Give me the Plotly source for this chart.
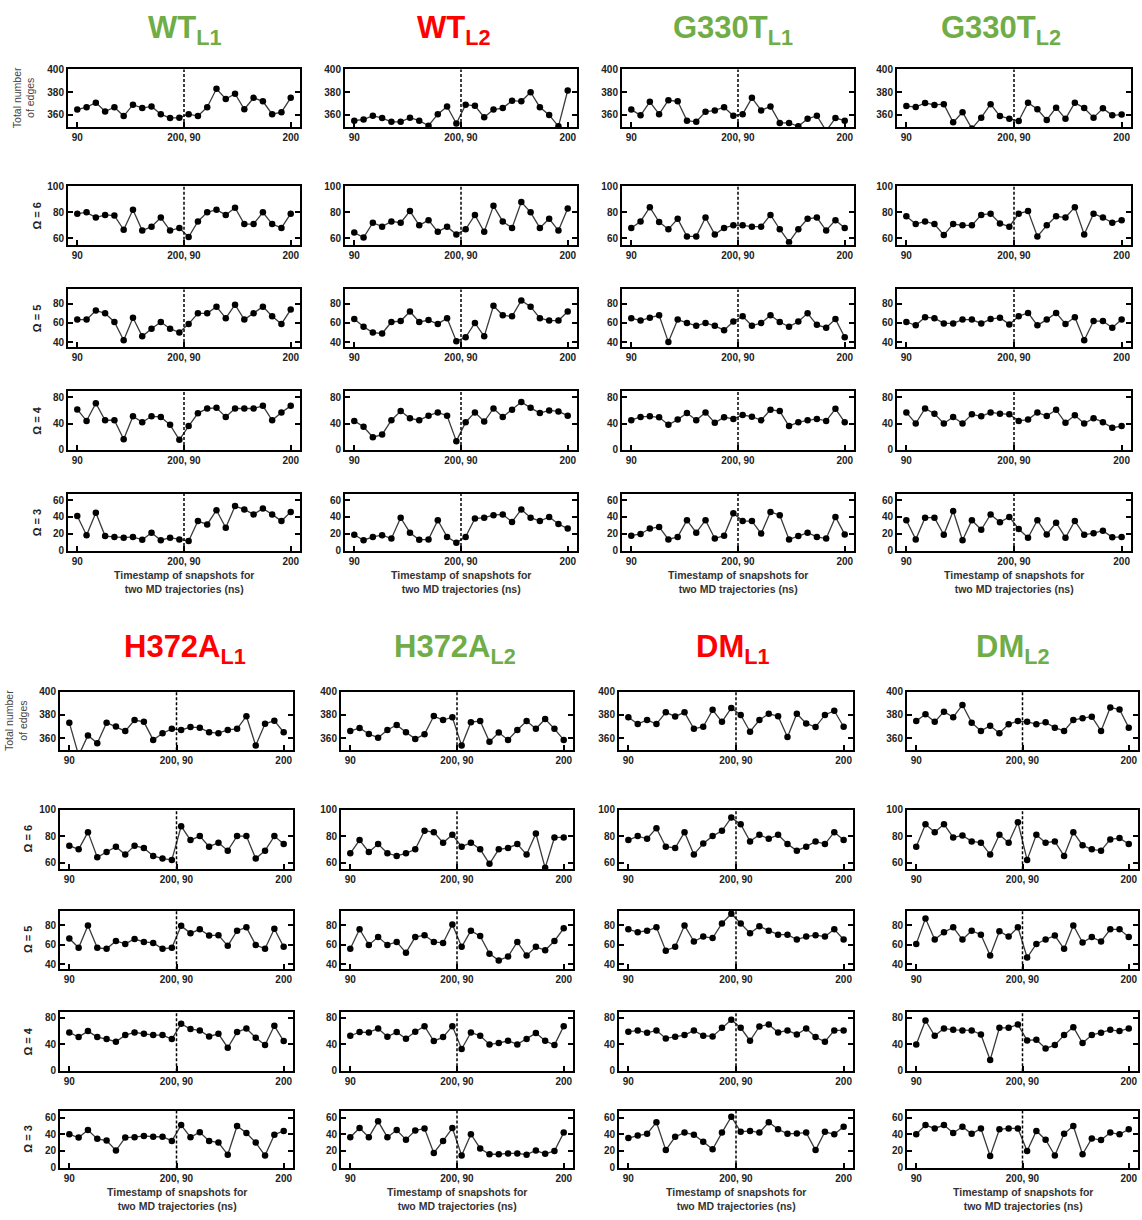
import plotly.graph_objects as go

W, H = 1142, 1220

# ---------------------------------------------------------------
# Snapshot axis: two 90-200 ns trajectories concatenated (12 + 12)
# ---------------------------------------------------------------
snap_index = list(range(24))
x_tick_vals = [0, 11.5, 23]
x_tick_text = ["90", "200, 90", "200"]
boundary = 11.5

row_titles = ["Total number<br>of edges", "<b>Ω = 6</b>", "<b>Ω = 5</b>", "<b>Ω = 4</b>", "<b>Ω = 3</b>"]
row_ranges = [[349.5, 400], [55, 100], [35, 95], [-0.5, 89], [-1, 68]]
row_ticks = [[360, 380, 400], [60, 80, 100], [40, 60, 80], [0, 40, 80], [0, 20, 40, 60]]

# ---------------- WT L1 ----------------
wt_l1_edges = [364.7, 366.8, 370.8, 363, 366.8, 359, 369, 366, 367.5, 360.7, 357.3, 357.6,
               360.7, 359, 366.8, 383, 374, 378.6, 365, 375, 372, 360.7, 362.4, 375]
wt_l1_w6 = [79, 80, 76, 78, 77.5, 66.6, 82, 66, 69, 76, 66, 68,
            61, 73, 80, 82, 78, 83.5, 71, 71, 80, 71, 68, 79]
wt_l1_w5 = [63.5, 63.5, 73, 70, 61, 42, 65.5, 46, 54, 61, 54, 50,
            59, 70, 70, 77, 65, 79, 63.5, 70, 77, 67, 59, 74]
wt_l1_w4 = [61.5, 44, 71, 45, 45, 16, 51, 42, 51, 50, 38, 15,
            36, 55.5, 63, 64, 50, 63, 63, 63, 67, 45, 57, 67]
wt_l1_w3 = [41, 18, 45, 17, 16, 15, 16, 12.5, 21, 12, 15, 13,
            11, 35, 31, 48, 27, 53, 49, 43, 50, 43, 35, 46]

# ---------------- WT L2 ----------------
wt_l2_edges = [355, 356, 359.3, 357.3, 354, 354, 357.6, 355, 350.5, 360.7, 367.5, 352.5,
               369, 368, 358, 364.7, 366, 372.5, 372, 380, 366.8, 360, 350, 381.5]
wt_l2_w6 = [64.5, 60.6, 72, 69, 73, 72, 81, 70, 74, 65, 69, 63,
            67, 78, 65, 85, 73, 68, 88, 80, 68, 75, 66, 83]
wt_l2_w5 = [64, 56, 50, 49, 61, 62, 72, 61, 63, 59, 65, 41,
            45, 60, 46, 78, 68, 67, 83.5, 77, 65, 62.5, 62.5, 72]
wt_l2_w4 = [44, 35, 19, 23, 45, 59, 48, 45, 52, 57, 52, 13,
            42, 57, 43, 63, 50, 61, 73, 64, 56, 60, 58.5, 52]
wt_l2_w3 = [18.5, 12, 16, 18, 14, 39, 21, 12.5, 13, 36, 16, 9,
            16, 38, 39, 42, 43, 34, 49, 39, 35, 40, 31.5, 26]

# ---------------- G330T L1 ----------------
g330t_l1_edges = [364.7, 359.7, 371.5, 360.7, 372.9, 372, 355, 354, 362.7, 364, 366.8, 359.3,
                  360.7, 375, 364, 367.5, 353, 353, 350, 356.6, 359.3, 346, 357.3, 355]
g330t_l1_w6 = [68, 73, 84, 72.5, 67, 75, 61.5, 61.5, 76, 63, 68, 70,
               70, 69, 69, 78, 67, 57, 67, 75, 76, 66, 74, 68]
g330t_l1_w5 = [65, 62.5, 65.5, 68, 40, 63.5, 60, 57, 60, 57, 52.5, 61.5,
               67, 57, 60, 68, 61, 56, 61.5, 70, 58, 55, 64, 45]
g330t_l1_w4 = [45, 50, 51, 49.5, 38, 46, 56, 45, 57, 41, 49.5, 47,
               53, 50.5, 45, 61, 59, 36, 42, 45, 47, 44, 62.5, 42]
g330t_l1_w3 = [17.5, 19.5, 26, 28, 13, 16, 36, 21, 36, 14, 17.5, 44.5,
               35, 35, 20, 46, 42, 13, 17, 21, 16, 14, 40, 19]

# ---------------- G330T L2 ----------------
g330t_l2_edges = [367.8, 367, 370.5, 368.8, 369.5, 353.5, 362.4, 348, 357.6, 369.5, 359, 356.6,
                  354.6, 370.8, 365, 355.6, 366.4, 356.6, 370.8, 366, 357.6, 365.8, 359.7, 360.3]
g330t_l2_w6 = [77, 71, 73, 71, 62.5, 71, 70, 70, 78, 79, 71.5, 69,
               79, 81, 61.5, 70, 77, 76, 84, 63, 79, 76, 72, 74]
g330t_l2_w5 = [61, 57.5, 66, 65, 59.5, 59.5, 63.5, 63.5, 59.5, 64, 65.5, 58.5,
               67, 70.5, 57.5, 63.5, 70.5, 59, 66, 42, 62, 62, 55, 63.5]
g330t_l2_w4 = [57, 40, 63, 55, 40, 50, 40, 54, 51, 57, 55, 54,
               44, 46, 57, 51.5, 61, 41, 52.5, 40, 48, 42, 33.5, 36]
g330t_l2_w3 = [36, 13, 39, 39, 18.5, 47, 12, 36, 24.5, 43, 33.5, 40,
               25.5, 15, 36, 19, 33, 15, 35, 18.5, 20.5, 23.5, 15.5, 16]

# ---------------- H372A L1 ----------------
h372a_l1_edges = [373.3, 345, 362.3, 355.5, 373.3, 370, 366, 375.6, 374, 358.4, 364.2, 368,
                  367, 369.5, 369, 365, 364.2, 367, 368, 378.9, 353.5, 372.3, 375, 365]
h372a_l1_w6 = [72.8, 70, 83, 64, 68, 72, 66, 72.8, 71, 65, 63, 62,
               87.5, 77, 80, 72, 75, 69, 80, 80, 63, 69, 80, 74]
h372a_l1_w5 = [66.5, 57, 80, 57, 56, 64, 61, 66, 63, 62, 56, 57,
               79.5, 72, 76, 69.5, 70, 59, 74.5, 78, 60, 56, 76.5, 58]
h372a_l1_w4 = [58, 51, 60, 51, 48, 44, 54, 58, 56, 54, 54, 48,
               71, 63, 61, 52, 56, 35, 58.5, 64, 50, 39, 68, 45]
h372a_l1_w3 = [40, 36, 45, 34.5, 32.5, 20.5, 36, 36.5, 38, 37, 37, 32,
               51, 36.5, 42.5, 32, 30, 15.5, 50, 41.5, 30, 14.5, 39.5, 44]

# ---------------- H372A L2 ----------------
h372a_l2_edges = [366, 368.8, 363.5, 360.3, 367, 371.3, 365, 359.3, 363.2, 379, 375.6, 378,
                  353.5, 373.7, 374.7, 356.8, 364.8, 358.4, 367, 374.7, 368, 376.5, 368, 358.4]
h372a_l2_w6 = [67, 77, 68, 74, 67, 65, 67, 70, 84, 83, 75, 81,
               72, 75, 70, 59, 70, 71, 74, 66, 82, 56, 79, 79]
h372a_l2_w5 = [56, 76, 60, 68, 60, 63, 52, 68, 70, 63, 62, 81,
               58, 74.5, 69, 51, 44, 48, 63, 49, 58, 54.5, 64, 77]
h372a_l2_w4 = [53, 58.5, 58, 64, 51.5, 58.5, 48.5, 59, 67.5, 45, 51, 67.5,
               33, 58, 53, 40, 42, 45.5, 40, 48, 57, 45.5, 39, 67.5]
h372a_l2_w3 = [36.5, 47.5, 36.5, 55.5, 36.5, 45, 33.5, 44.5, 47, 17.5, 32, 47.5,
               14.5, 40, 23, 16, 16, 17, 17, 15.5, 20.5, 16.5, 20, 42]

# ---------------- DM L1 ----------------
dm_l1_edges = [378, 372.1, 375.6, 372.1, 382.2, 378.7, 382.2, 368, 369.8, 384.4, 374, 386,
               380, 365.5, 375.6, 381, 378.9, 361, 381, 372.6, 369.5, 380, 383.6, 369.8]
dm_l1_w6 = [77, 80, 78, 86, 72, 71, 83, 66, 74.5, 80, 84, 94,
            89, 76, 81, 78, 81, 74, 69, 72, 76, 74, 83, 77]
dm_l1_w5 = [76, 73, 74.5, 78, 54, 58, 80, 63.5, 68.5, 67, 82, 92,
            82, 72, 79, 74.5, 70.5, 70.5, 65.5, 68.5, 70, 68.5, 76, 65.5]
dm_l1_w4 = [59, 61, 57.5, 61, 49, 51.5, 54, 61, 53, 52, 65, 77,
            65, 45.5, 67, 70, 58, 61, 55, 64, 51, 44, 61, 61]
dm_l1_w3 = [35.5, 38.5, 40.5, 54.5, 21, 37, 42, 39.5, 31, 22, 42, 61,
            43, 44, 42, 54.5, 46, 40.5, 41, 42, 21, 43, 40, 49]

# ---------------- DM L2 ----------------
dm_l2_edges = [374.7, 380.5, 374, 382.8, 378, 388.6, 373.3, 366.2, 370.7, 364.2, 372, 374.7,
               374, 372, 373.6, 369, 366.2, 375.6, 377.2, 378.5, 366.2, 386.4, 384.7, 369]
dm_l2_w6 = [72, 89, 83, 89, 79, 80.5, 76, 75, 66, 81, 75, 90.5,
            62, 81, 75, 76, 65, 83, 73, 70, 69, 77.5, 78.5, 74]
dm_l2_w5 = [61, 87, 65.5, 73, 78, 65.5, 74.5, 70.5, 49, 74, 68.5, 78,
            47, 61, 65.5, 69.5, 56, 80, 62.5, 68, 63.5, 76, 76, 68]
dm_l2_w4 = [40, 76, 53, 64, 62, 61, 61, 55, 16.5, 65, 65, 70,
            46, 47, 34, 39, 54, 66, 42, 54, 57.5, 62, 60, 64]
dm_l2_w3 = [40, 51, 47, 51, 41.5, 49, 40.5, 47, 14, 46, 47, 47,
            20, 44, 33.5, 14.5, 40.5, 50, 16, 35, 33, 42, 40, 46]

# Panel names, title colours and their five series (edges, Ω=6, Ω=5, Ω=4, Ω=3)
GREEN = "#70AD47"
RED = "#FF0000"
panels = [
    ("WT", "L1", GREEN, [wt_l1_edges, wt_l1_w6, wt_l1_w5, wt_l1_w4, wt_l1_w3]),
    ("WT", "L2", RED, [wt_l2_edges, wt_l2_w6, wt_l2_w5, wt_l2_w4, wt_l2_w3]),
    ("G330T", "L1", GREEN, [g330t_l1_edges, g330t_l1_w6, g330t_l1_w5, g330t_l1_w4, g330t_l1_w3]),
    ("G330T", "L2", GREEN, [g330t_l2_edges, g330t_l2_w6, g330t_l2_w5, g330t_l2_w4, g330t_l2_w3]),
    ("H372A", "L1", RED, [h372a_l1_edges, h372a_l1_w6, h372a_l1_w5, h372a_l1_w4, h372a_l1_w3]),
    ("H372A", "L2", GREEN, [h372a_l2_edges, h372a_l2_w6, h372a_l2_w5, h372a_l2_w4, h372a_l2_w3]),
    ("DM", "L1", RED, [dm_l1_edges, dm_l1_w6, dm_l1_w5, dm_l1_w4, dm_l1_w3]),
    ("DM", "L2", GREEN, [dm_l2_edges, dm_l2_w6, dm_l2_w5, dm_l2_w4, dm_l2_w3]),
]

# ---------------- pixel layout of the two blocks ----------------
block_cols = [
    [(68, 300), (345, 577), (622, 854), (897, 1131)],
    [(60, 293), (341, 573), (619, 853), (907, 1138)],
]
block_rows = [
    [(64, 122), (182, 241), (286, 344), (389, 448), (492, 550)],
    [(692, 751), (811, 871), (913, 972), (1015, 1075), (1115, 1173)],
]
title_y = [24, 649]
title_x = [[185, 454, 733, 1001], [185, 455, 733, 1013]]
xtitle_y = [581, 1204]
ylabel_x = [[24, 37], [16, 28]]  # (edges label centre, Ω label centre)

FONT = "Liberation Sans, Arial, sans-serif"

fig = go.Figure()
annotations = []
shapes = []
layout_axes = {}

n = 0
for p, (name, sub, colour, series) in enumerate(panels):
    b, c = divmod(p, 4)
    x0, x1 = block_cols[b][c]
    for r in range(5):
        n += 1
        y0, y1 = block_rows[b][r]
        xa = "x" if n == 1 else f"x{n}"
        ya = "y" if n == 1 else f"y{n}"
        fig.add_trace(go.Scatter(
            x=snap_index, y=series[r], xaxis=xa, yaxis=ya,
            mode="lines+markers",
            line=dict(color="#3a3a3a", width=1.3),
            marker=dict(color="black", size=6.5),
            showlegend=False, hoverinfo="x+y",
        ))
        layout_axes["xaxis" if n == 1 else f"xaxis{n}"] = dict(
            domain=[x0 / W, x1 / W], anchor=ya, range=[-1, 24],
            tickmode="array", tickvals=x_tick_vals, ticktext=x_tick_text,
            ticks="inside", ticklen=5, tickwidth=2, tickcolor="black",
            showline=True, linewidth=2, linecolor="black", mirror=True,
            showgrid=False, zeroline=False, fixedrange=True,
            tickfont=dict(family=FONT, size=10, color="#222", weight="bold"),
        )
        layout_axes["yaxis" if n == 1 else f"yaxis{n}"] = dict(
            domain=[1 - y1 / H, 1 - y0 / H], anchor=xa, range=row_ranges[r],
            tickmode="array", tickvals=row_ticks[r],
            ticks="inside", ticklen=5, tickwidth=2, tickcolor="black",
            showline=True, linewidth=2, linecolor="black", mirror="ticks",
            showgrid=False, zeroline=False, fixedrange=True,
            tickfont=dict(family=FONT, size=10, color="#222", weight="bold"),
        )
        # boundary between the two trajectories
        shapes.append(dict(
            type="line", xref=xa, yref=f"{ya} domain",
            x0=boundary, x1=boundary, y0=0, y1=1,
            line=dict(color="black", width=1.5, dash="3px,2px"),
        ))
        # row labels on the first column of each block
        if c == 0:
            is_edges = r == 0
            annotations.append(dict(
                text=row_titles[r], xref="paper", yref="paper",
                x=ylabel_x[b][0 if is_edges else 1] / W,
                y=1 - (y0 + y1) / 2 / H,
                xanchor="center", yanchor="middle", textangle=-90,
                showarrow=False,
                font=dict(family=FONT, size=10.5 if is_edges else 11,
                          color="#444" if is_edges else "#222"),
            ))
    # panel title
    annotations.append(dict(
        text=f"<b>{name}<sub>{sub}</sub></b>", xref="paper", yref="paper",
        x=title_x[b][c] / W, y=1 - title_y[b] / H,
        xanchor="center", yanchor="middle", showarrow=False,
        font=dict(family=FONT, size=31, color=colour),
    ))
    # x-axis title under the column
    annotations.append(dict(
        text="<b>Timestamp of snapshots for<br>two MD trajectories (ns)</b>",
        xref="paper", yref="paper",
        x=(x0 + x1) / 2 / W, y=1 - xtitle_y[b] / H,
        xanchor="center", yanchor="middle", showarrow=False,
        font=dict(family=FONT, size=10.5, color="#333"),
    ))

fig.update_layout(
    width=W, height=H,
    margin=dict(l=0, r=0, t=0, b=0),
    paper_bgcolor="white", plot_bgcolor="white",
    annotations=annotations, shapes=shapes,
    **layout_axes,
)

fig.write_html("out.html")
